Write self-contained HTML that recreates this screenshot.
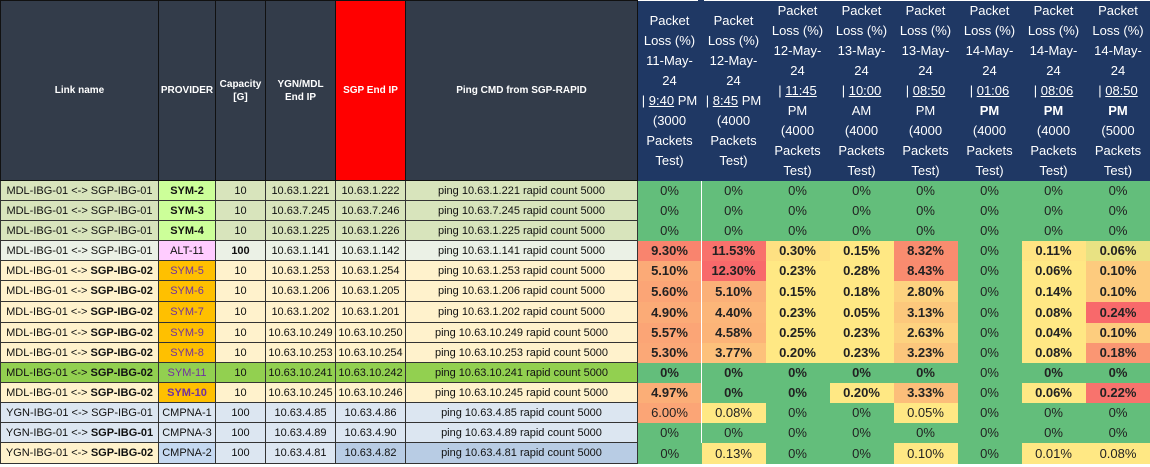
<!DOCTYPE html>
<html><head><meta charset="utf-8"><style>
body{margin:0;width:1150px;height:467px;background:#fff;overflow:hidden;font-family:"Liberation Sans",Arial,sans-serif}
table{border-collapse:collapse;table-layout:fixed;position:absolute;left:0;top:0;width:1150px}
td{padding:0;text-align:center;vertical-align:middle;white-space:nowrap;overflow:hidden}
tr.h{background:#1f3864}
.h td{height:179px;color:#fff;font-weight:bold;font-size:10px;line-height:13px;white-space:normal}
.hl{background:#333c4a;border:1px solid #111}
.hr{background:#1f3864;border:none;font-weight:normal!important;font-size:13px!important;line-height:20px!important}
.l td.c{border:1px solid #333;font-size:11px;color:#111}
tr.b td{height:19px}
tr.t td{height:20px}
td.v{font-size:13px;color:#222}
u{text-decoration:underline}
.G{background:#63be7b}.Y{background:#ffe884}
#fix{position:absolute;left:698px;top:0;width:6px;height:181px;background:#1f3864}
</style></head><body>
<table>
<colgroup><col style="width:158px"><col style="width:57px"><col style="width:50px"><col style="width:70px"><col style="width:70px"><col style="width:232px"><col style="width:64px"><col style="width:64px"><col style="width:64px"><col style="width:64px"><col style="width:64px"><col style="width:64px"><col style="width:64px"><col style="width:65px"></colgroup>
<tr class="h">
<td class="hl">Link name</td><td class="hl">PROVIDER</td><td class="hl">Capacity<br>[G]</td><td class="hl">YGN/MDL<br>End IP</td><td class="hl" style="background:#ff0000">SGP End IP</td><td class="hl">Ping CMD from SGP-RAPID</td>
<td class="hr">Packet<br>Loss (%)<br>11-May-<br>24<br>| <u>9:40</u> PM<br>(3000<br>Packets<br>Test)</td>
<td class="hr">Packet<br>Loss (%)<br>12-May-<br>24<br>| <u>8:45</u> PM<br>(4000<br>Packets<br>Test)</td>
<td class="hr">Packet<br>Loss (%)<br>12-May-<br>24<br>| <u>11:45 </u><br>PM<br>(4000<br>Packets<br>Test)</td>
<td class="hr">Packet<br>Loss (%)<br>13-May-<br>24<br>| <u>10:00 </u><br>AM<br>(4000<br>Packets<br>Test)</td>
<td class="hr">Packet<br>Loss (%)<br>13-May-<br>24<br>| <u>08:50 </u><br>PM<br>(4000<br>Packets<br>Test)</td>
<td class="hr">Packet<br>Loss (%)<br>14-May-<br>24<br>| <u>01:06 </u><br><b>PM</b><br>(4000<br>Packets<br>Test)</td>
<td class="hr">Packet<br>Loss (%)<br>14-May-<br>24<br>| <u>08:06 </u><br><b>PM</b><br>(4000<br>Packets<br>Test)</td>
<td class="hr">Packet<br>Loss (%)<br>14-May-<br>24<br>| <u>08:50 </u><br><b>PM</b><br>(5000<br>Packets<br>Test)</td>
</tr>
<tr class="l b" style="background:#d8e4bc"><td class="c">MDL-IBG-01 &lt;-&gt; SGP-IBG-01</td><td class="c" style="background:#ccff99"><b>SYM-2</b></td><td class="c">10</td><td class="c">10.63.1.221</td><td class="c">10.63.1.222</td><td class="c">ping 10.63.1.221 rapid count 5000</td><td class="v G">0%</td><td class="v G">0%</td><td class="v G">0%</td><td class="v G">0%</td><td class="v G">0%</td><td class="v G">0%</td><td class="v G">0%</td><td class="v G">0%</td></tr>
<tr class="l b" style="background:#d8e4bc"><td class="c">MDL-IBG-01 &lt;-&gt; SGP-IBG-01</td><td class="c" style="background:#ccff99"><b>SYM-3</b></td><td class="c">10</td><td class="c">10.63.7.245</td><td class="c">10.63.7.246</td><td class="c">ping 10.63.7.245 rapid count 5000</td><td class="v G">0%</td><td class="v G">0%</td><td class="v G">0%</td><td class="v G">0%</td><td class="v G">0%</td><td class="v G">0%</td><td class="v G">0%</td><td class="v G">0%</td></tr>
<tr class="l b" style="background:#d8e4bc"><td class="c">MDL-IBG-01 &lt;-&gt; SGP-IBG-01</td><td class="c" style="background:#ccff99"><b>SYM-4</b></td><td class="c">10</td><td class="c">10.63.1.225</td><td class="c">10.63.1.226</td><td class="c">ping 10.63.1.225 rapid count 5000</td><td class="v G">0%</td><td class="v G">0%</td><td class="v G">0%</td><td class="v G">0%</td><td class="v G">0%</td><td class="v G">0%</td><td class="v G">0%</td><td class="v G">0%</td></tr>
<tr class="l b" style="background:#ebf1e6;font-weight:bold"><td class="c" style="font-weight:normal">MDL-IBG-01 &lt;-&gt; SGP-IBG-01</td><td class="c" style="background:#ffccff;font-weight:normal">ALT-11</td><td class="c">100</td><td class="c" style="font-weight:normal">10.63.1.141</td><td class="c" style="font-weight:normal">10.63.1.142</td><td class="c" style="font-weight:normal">ping 10.63.1.141 rapid count 5000</td><td class="v" style="background:#f9846e">9.30%</td><td class="v" style="background:#f8716c">11.53%</td><td class="v" style="background:#fee082">0.30%</td><td class="v Y">0.15%</td><td class="v" style="background:#f98c6f">8.32%</td><td class="v G" style="font-weight:normal">0%</td><td class="v" style="background:#ffe483">0.11%</td><td class="v" style="background:#e8e283">0.06%</td></tr>
<tr class="l b" style="background:#fff2cc;font-weight:bold"><td class="c" style="font-weight:normal">MDL-IBG-01 &lt;-&gt; <b>SGP-IBG-02</b></td><td class="c" style="background:#ffc000;color:#7030a0;font-weight:normal">SYM-5</td><td class="c" style="font-weight:normal">10</td><td class="c" style="font-weight:normal">10.63.1.253</td><td class="c" style="font-weight:normal">10.63.1.254</td><td class="c" style="font-weight:normal">ping 10.63.1.253 rapid count 5000</td><td class="v" style="background:#fbaa77">5.10%</td><td class="v" style="background:#f8696b">12.30%</td><td class="v Y">0.23%</td><td class="v Y">0.28%</td><td class="v" style="background:#f98b6f">8.43%</td><td class="v G" style="font-weight:normal">0%</td><td class="v Y">0.06%</td><td class="v" style="background:#fdcb7e">0.10%</td></tr>
<tr class="l t" style="background:#fff2cc;font-weight:bold"><td class="c" style="font-weight:normal">MDL-IBG-01 &lt;-&gt; <b>SGP-IBG-02</b></td><td class="c" style="background:#ffc000;color:#7030a0;font-weight:normal">SYM-6</td><td class="c" style="font-weight:normal">10</td><td class="c" style="font-weight:normal">10.63.1.206</td><td class="c" style="font-weight:normal">10.63.1.205</td><td class="c" style="font-weight:normal">ping 10.63.1.206 rapid count 5000</td><td class="v" style="background:#fba576">5.60%</td><td class="v" style="background:#fbb078">5.10%</td><td class="v Y">0.15%</td><td class="v Y">0.18%</td><td class="v" style="background:#fdd27f">2.80%</td><td class="v G" style="font-weight:normal">0%</td><td class="v Y">0.14%</td><td class="v" style="background:#fdcb7e">0.10%</td></tr>
<tr class="l t" style="background:#fff2cc;font-weight:bold"><td class="c" style="font-weight:normal">MDL-IBG-01 &lt;-&gt; <b>SGP-IBG-02</b></td><td class="c" style="background:#ffc000;color:#7030a0;font-weight:normal">SYM-7</td><td class="c" style="font-weight:normal">10</td><td class="c" style="font-weight:normal">10.63.1.202</td><td class="c" style="font-weight:normal">10.63.1.201</td><td class="c" style="font-weight:normal">ping 10.63.1.202 rapid count 5000</td><td class="v" style="background:#fbab77">4.90%</td><td class="v" style="background:#fcb679">4.40%</td><td class="v Y">0.23%</td><td class="v Y">0.05%</td><td class="v" style="background:#fcc87c">3.13%</td><td class="v G" style="font-weight:normal">0%</td><td class="v Y">0.08%</td><td class="v" style="background:#f8696b">0.24%</td></tr>
<tr class="l b" style="background:#fff2cc;font-weight:bold"><td class="c" style="font-weight:normal">MDL-IBG-01 &lt;-&gt; <b>SGP-IBG-02</b></td><td class="c" style="background:#ffc000;color:#7030a0;font-weight:normal">SYM-9</td><td class="c" style="font-weight:normal">10</td><td class="c" style="font-weight:normal">10.63.10.249</td><td class="c" style="font-weight:normal">10.63.10.250</td><td class="c" style="font-weight:normal">ping 10.63.10.249 rapid count 5000</td><td class="v" style="background:#fba576">5.57%</td><td class="v" style="background:#fcb478">4.58%</td><td class="v Y">0.25%</td><td class="v Y">0.23%</td><td class="v" style="background:#fdd27f">2.63%</td><td class="v G" style="font-weight:normal">0%</td><td class="v Y">0.04%</td><td class="v" style="background:#fdcd7e">0.10%</td></tr>
<tr class="l b" style="background:#fff2cc;font-weight:bold"><td class="c" style="font-weight:normal">MDL-IBG-01 &lt;-&gt; <b>SGP-IBG-02</b></td><td class="c" style="background:#ffc000;color:#7030a0;font-weight:normal">SYM-8</td><td class="c" style="font-weight:normal">10</td><td class="c" style="font-weight:normal">10.63.10.253</td><td class="c" style="font-weight:normal">10.63.10.254</td><td class="c" style="font-weight:normal">ping 10.63.10.253 rapid count 5000</td><td class="v" style="background:#fba877">5.30%</td><td class="v" style="background:#fdc17b">3.77%</td><td class="v Y">0.20%</td><td class="v Y">0.23%</td><td class="v" style="background:#fcc67c">3.23%</td><td class="v G" style="font-weight:normal">0%</td><td class="v Y">0.08%</td><td class="v" style="background:#fa9673">0.18%</td></tr>
<tr class="l b" style="background:#92d050;font-weight:bold"><td class="c" style="font-weight:normal">MDL-IBG-01 &lt;-&gt; <b>SGP-IBG-02</b></td><td class="c" style="color:#7030a0;font-weight:normal">SYM-11</td><td class="c" style="font-weight:normal">10</td><td class="c" style="font-weight:normal">10.63.10.241</td><td class="c" style="font-weight:normal">10.63.10.242</td><td class="c" style="font-weight:normal">ping 10.63.10.241 rapid count 5000</td><td class="v G">0%</td><td class="v G">0%</td><td class="v G">0%</td><td class="v G">0%</td><td class="v G">0%</td><td class="v G" style="font-weight:normal">0%</td><td class="v G">0%</td><td class="v G">0%</td></tr>
<tr class="l b" style="background:#fff2cc;font-weight:bold"><td class="c" style="font-weight:normal">MDL-IBG-01 &lt;-&gt; <b>SGP-IBG-02</b></td><td class="c" style="background:#ffc000;color:#7030a0">SYM-10</td><td class="c" style="font-weight:normal">10</td><td class="c" style="font-weight:normal">10.63.10.245</td><td class="c" style="font-weight:normal">10.63.10.246</td><td class="c" style="font-weight:normal">ping 10.63.10.245 rapid count 5000</td><td class="v" style="background:#fbae77">4.97%</td><td class="v G">0%</td><td class="v G">0%</td><td class="v Y">0.20%</td><td class="v" style="background:#fcbe7a">3.33%</td><td class="v G" style="font-weight:normal">0%</td><td class="v Y">0.06%</td><td class="v" style="background:#f8736d">0.22%</td></tr>
<tr class="l b" style="background:#dce6f1"><td class="c">YGN-IBG-01 &lt;-&gt; SGP-IBG-01</td><td class="c">CMPNA-1</td><td class="c">100</td><td class="c">10.63.4.85</td><td class="c">10.63.4.86</td><td class="c">ping 10.63.4.85 rapid count 5000</td><td class="v" style="background:#fba576">6.00%</td><td class="v Y">0.08%</td><td class="v G">0%</td><td class="v G">0%</td><td class="v Y">0.05%</td><td class="v G">0%</td><td class="v G">0%</td><td class="v G">0%</td></tr>
<tr class="l b" style="background:#dce6f1"><td class="c">YGN-IBG-01 &lt;-&gt; <b>SGP-IBG-01</b></td><td class="c">CMPNA-3</td><td class="c">100</td><td class="c">10.63.4.89</td><td class="c">10.63.4.90</td><td class="c">ping 10.63.4.89 rapid count 5000</td><td class="v G">0%</td><td class="v G">0%</td><td class="v G">0%</td><td class="v G">0%</td><td class="v G">0%</td><td class="v G">0%</td><td class="v G">0%</td><td class="v G">0%</td></tr>
<tr class="l t" style="background:#dce6f1"><td class="c" style="background:#fff2cc">YGN-IBG-01 &lt;-&gt; <b>SGP-IBG-02</b></td><td class="c" style="background:#c5d9f1">CMPNA-2</td><td class="c">100</td><td class="c">10.63.4.81</td><td class="c" style="background:#b8cce4">10.63.4.82</td><td class="c" style="background:#b8cce4">ping 10.63.4.81 rapid count 5000</td><td class="v G">0%</td><td class="v Y">0.13%</td><td class="v G">0%</td><td class="v G">0%</td><td class="v Y">0.10%</td><td class="v G">0%</td><td class="v Y">0.01%</td><td class="v Y">0.08%</td></tr>
</table>
<div id="fix"></div>
</body></html>
